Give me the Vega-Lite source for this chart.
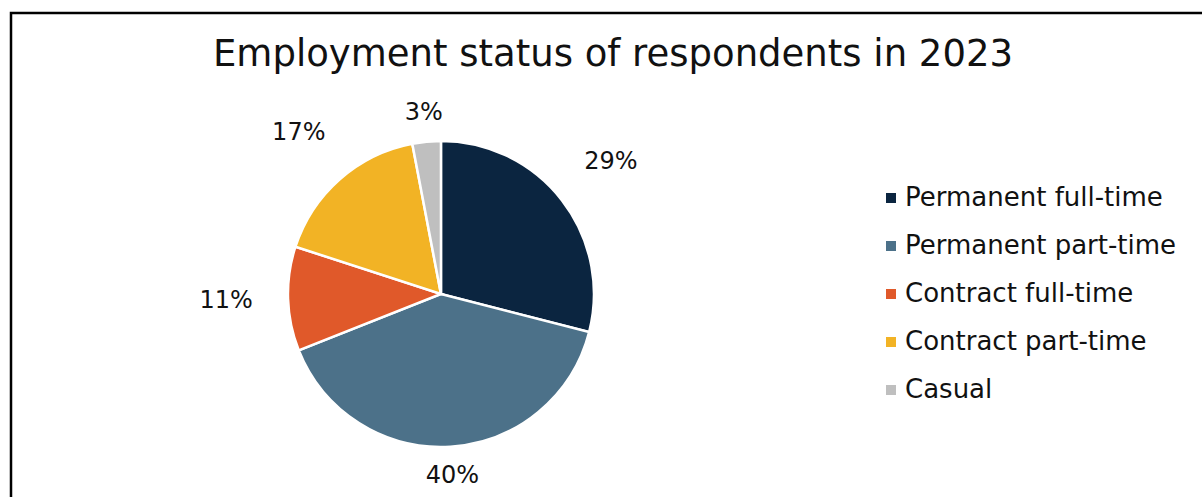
{
  "$schema": "https://vega.github.io/schema/vega-lite/v6.json",
  "width": 1196,
  "height": 489,
  "autosize": {"type": "none"},
  "padding": {"left": 11, "top": 13, "right": -5, "bottom": -5},
  "background": "white",
  "view": {"stroke": "#000000", "strokeWidth": 2.5},
  "title": {
    "text": "Employment status of respondents in 2023",
    "font": "DejaVu Sans",
    "fontSize": 37,
    "fontWeight": "normal",
    "color": "#111111",
    "anchor": "middle",
    "frame": "group",
    "baseline": "alphabetic",
    "offset": 0,
    "dx": 4,
    "dy": 90
  },
  "data": {
    "values": [
      {"status": "Permanent full-time", "share": 29, "label": "29%", "rank": 1, "leader": true},
      {"status": "Permanent part-time", "share": 40, "label": "40%", "rank": 2, "leader": false},
      {"status": "Contract full-time", "share": 11, "label": "11%", "rank": 3, "leader": true},
      {"status": "Contract part-time", "share": 17, "label": "17%", "rank": 4, "leader": true},
      {"status": "Casual", "share": 3, "label": "3%", "rank": 5, "leader": false}
    ]
  },
  "encoding": {
    "theta": {"field": "share", "type": "quantitative", "stack": true},
    "order": {"field": "rank", "type": "quantitative", "sort": "ascending"}
  },
  "layer": [
    {
      "mark": {
        "type": "arc",
        "outerRadius": 153,
        "stroke": "white",
        "strokeWidth": 2.5,
        "x": {"expr": "width * 0.3595"},
        "y": {"expr": "height * 0.5746"}
      },
      "encoding": {
        "color": {
          "field": "status",
          "type": "nominal",
          "sort": ["Permanent full-time", "Permanent part-time", "Contract full-time", "Contract part-time", "Casual"],
          "scale": {
            "domain": ["Permanent full-time", "Permanent part-time", "Contract full-time", "Contract part-time", "Casual"],
            "range": ["#0B2540", "#4C7189", "#E0592A", "#F2B325", "#BFBFBF"]
          },
          "legend": {
            "orient": "none",
            "legendX": 867,
            "legendY": 172,
            "title": null,
            "symbolType": "square",
            "symbolSize": 100,
            "symbolStrokeWidth": 0,
            "labelFont": "DejaVu Sans",
            "labelFontSize": 26,
            "labelColor": "#111111",
            "labelOffset": 1,
            "labelLimit": 400,
            "rowPadding": 22
          }
        }
      }
    },
    {
      "mark": {
        "type": "text",
        "radius": 215,
        "font": "DejaVu Sans",
        "fontSize": 24,
        "color": "#111111",
        "align": "center",
        "baseline": "middle",
        "x": {"expr": "width * 0.3595"},
        "y": {"expr": "height * 0.5746"}
      },
      "encoding": {
        "text": {"condition": {"test": "datum.leader", "field": "label"}, "value": ""}
      }
    },
    {
      "mark": {
        "type": "text",
        "radius": 182,
        "font": "DejaVu Sans",
        "fontSize": 24,
        "color": "#111111",
        "align": "center",
        "baseline": "middle",
        "x": {"expr": "width * 0.3595"},
        "y": {"expr": "height * 0.5746"}
      },
      "encoding": {
        "text": {"condition": {"test": "!datum.leader", "field": "label"}, "value": ""}
      }
    }
  ]
}
